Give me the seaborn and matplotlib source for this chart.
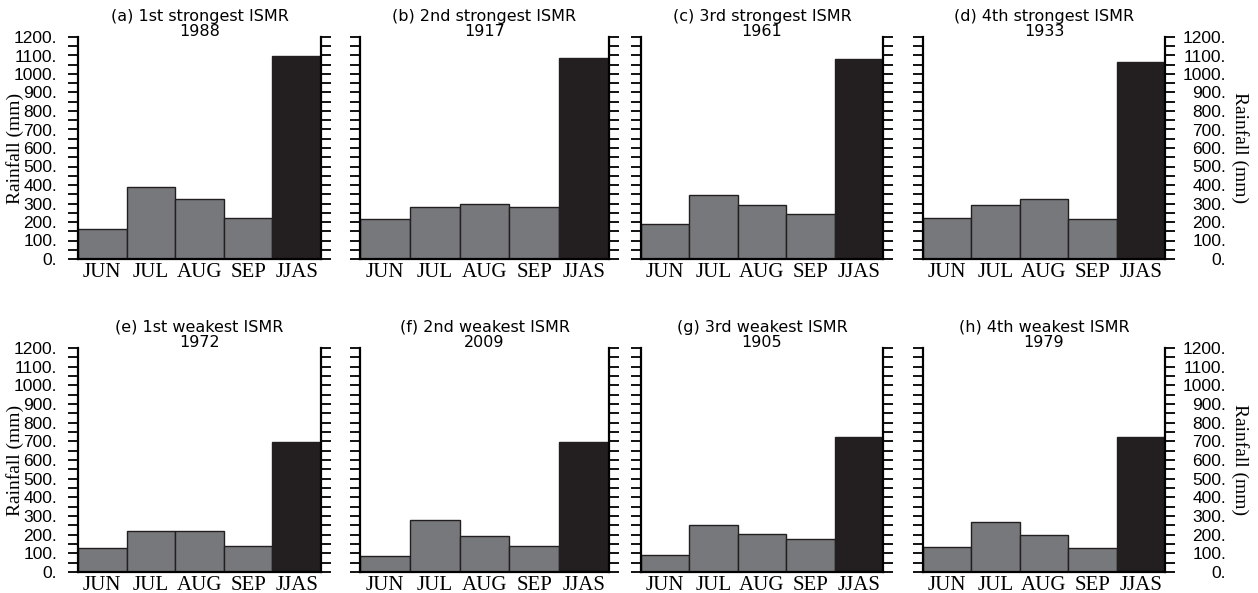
import matplotlib
matplotlib.use("Agg")
import matplotlib.pyplot as plt
import seaborn as sns
import pandas as pd
import numpy as np

months = ["JUN", "JUL", "AUG", "SEP", "JJAS"]

titles = [
    "(a) 1st strongest ISMR\n1988",
    "(b) 2nd strongest ISMR\n1917",
    "(c) 3rd strongest ISMR\n1961",
    "(d) 4th strongest ISMR\n1933",
    "(e) 1st weakest ISMR\n1972",
    "(f) 2nd weakest ISMR\n2009",
    "(g) 3rd weakest ISMR\n1905",
    "(h) 4th weakest ISMR\n1979",
]

rain_a = [164, 388, 324, 221, 1097]
rain_b = [216, 279, 300, 282, 1085]
rain_c = [191, 345, 293, 243, 1081]
rain_d = [219, 291, 327, 218, 1067]
rain_e = [129, 218, 221, 137, 698]
rain_f = [87, 280, 195, 141, 698]
rain_g = [89, 254, 204, 177, 721]
rain_h = [134, 266, 200, 130, 725]

series = [rain_a, rain_b, rain_c, rain_d, rain_e, rain_f, rain_g, rain_h]

ytick_vals = list(range(0, 1201, 100))
ytick_labels = [f"{v}." for v in ytick_vals]

sns.set_style("white")
plt.rcParams["font.family"] = ["Liberation Sans", "DejaVu Sans"]

gray = "#77787b"
dark = "#231f20"
palette = [gray, gray, gray, gray, dark]
serif = ["Liberation Serif", "DejaVu Serif"]

W, H = 1258, 593
fig = plt.figure(figsize=(W / 100, H / 100), dpi=100)

lefts = [78, 360, 641, 923]
widths = [243, 249, 242, 242]
rows = [(37, 259), (348, 572)]

for i, vals in enumerate(series):
    r, c = divmod(i, 4)
    top, bot = rows[r]
    ax = fig.add_axes([lefts[c] / W, 1 - bot / H, widths[c] / W, (bot - top) / H])
    df = pd.DataFrame({"month": months, "rain": vals})
    sns.barplot(data=df, x="month", y="rain", hue="month", palette=palette,
                legend=False, width=1.0, edgecolor=dark, linewidth=1.0,
                saturation=1, ax=ax)
    ax.set_xlim(-0.5, 4.5)
    ax.set_ylim(0, 1200)
    ax.set_xlabel("")
    for s in ["left", "right", "bottom"]:
        ax.spines[s].set_visible(True)
        ax.spines[s].set_linewidth(1.6)
        ax.spines[s].set_color("black")
    ax.spines["top"].set_visible(False)
    ax.set_yticks(np.arange(0, 1201, 50), minor=True)
    ax.set_yticks(ytick_vals)
    ax.set_yticklabels(ytick_labels)
    ax.tick_params(axis="y", which="both", direction="out", length=7, width=1.3,
                   left=True, right=True, colors="black", labelsize=12.5, pad=8)
    ax.tick_params(axis="x", which="both", bottom=False, length=0, pad=3,
                   labelsize=15, colors="black")
    for lab in ax.get_xticklabels():
        lab.set_family(serif)
    if c == 0:
        ax.tick_params(axis="y", labelleft=True, labelright=False)
        ax.set_ylabel("Rainfall (mm)", family=serif, fontsize=14, color="black")
        ax.yaxis.label.set_rotation_mode("anchor")
        ax.yaxis.label.set_ha("center")
        ax.yaxis.label.set_va("center")
        ax.yaxis.set_label_coords(-0.259, 0.5)
    elif c == 3:
        ax.tick_params(axis="y", labelleft=False, labelright=True, pad=37)
        for lab in ax.get_yticklabels():
            lab.set_horizontalalignment("right")
        ax.yaxis.set_label_position("right")
        ax.set_ylabel("Rainfall (mm)", family=serif, fontsize=14,
                      rotation=270, color="black")
        ax.yaxis.label.set_rotation_mode("anchor")
        ax.yaxis.label.set_ha("center")
        ax.yaxis.label.set_va("center")
        ax.yaxis.set_label_coords(1.31, 0.5)
    else:
        ax.tick_params(axis="y", labelleft=False, labelright=False)
        ax.set_ylabel("")
    ax.set_title(titles[i], fontsize=11.5, pad=1, linespacing=1.0,
                 family=["DejaVu Sans"], color="black")

fig.savefig("out.png", dpi=100)
